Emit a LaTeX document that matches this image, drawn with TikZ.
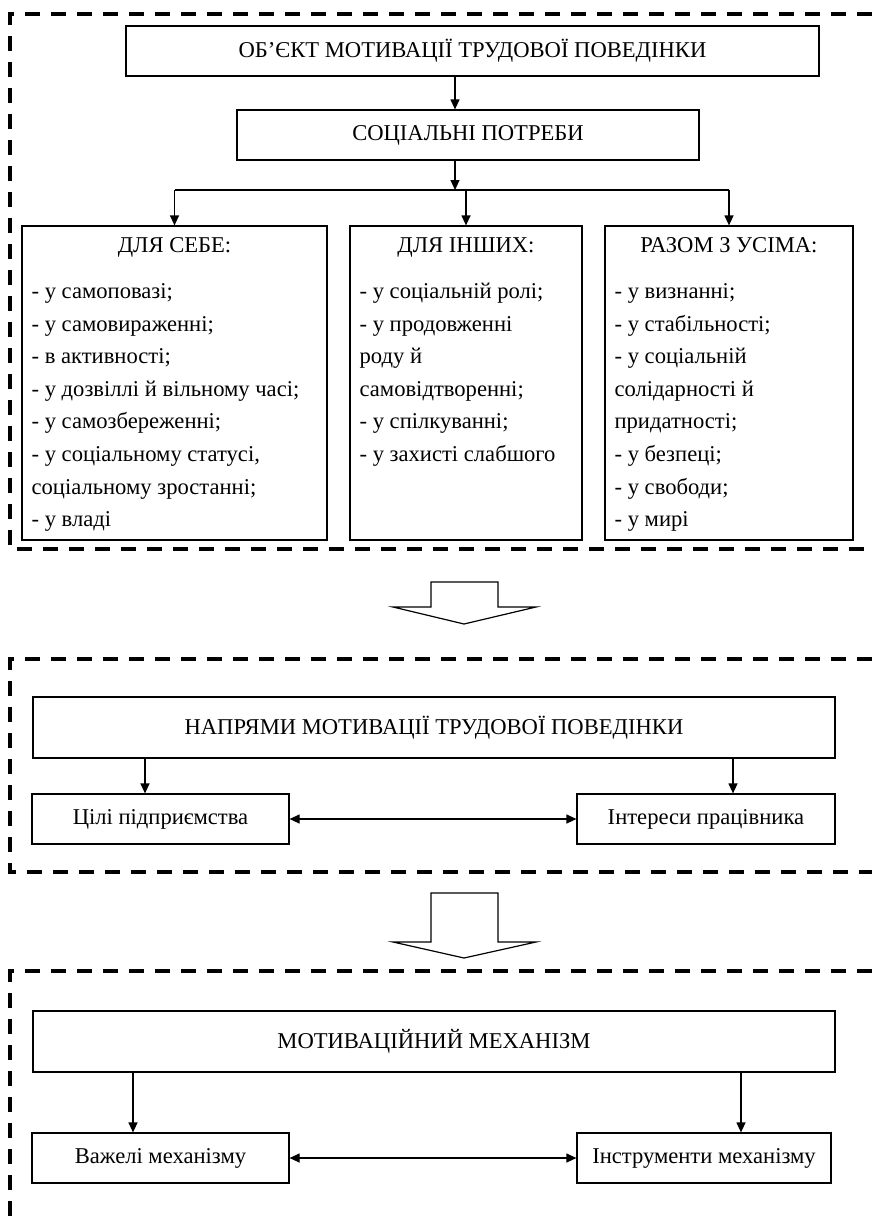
\documentclass[tikz,border=0pt]{standalone}
\usepackage{fontspec}
\setmainfont{Liberation Serif}
\usetikzlibrary{positioning,calc,arrows.meta}

\begin{document}
\begin{tikzpicture}[x=0.5pt,y=-0.5pt,line width=0.6pt,>={Triangle[length=5pt,width=4.5pt]}]
   \tikzstyle{every node} = [inner sep=0pt, font=\fontsize{11.3}{16.3}\selectfont];
   \tikzstyle{box} = [rectangle, draw, line width=0.6pt];
   \tikzstyle{frame} = [line width=2pt, dash pattern=on 7.5pt off 5.5pt];
   \tikzstyle{list} = [align=left, anchor=north west];
   \tikzstyle{hollow} = [line width=0.6pt, fill=white];
   \useasboundingbox (0,0) rectangle (872,1216);

   % dashed frames
   \draw[frame] (872,14) -- (10,14) -- (10,549) -- (872,549);
   \draw[frame] (872,659) -- (10,659) -- (10,872) -- (872,872);
   \draw[frame] (872,971) -- (10,971) -- (10,1216);

   % object and needs
   \node[box, minimum width=346.5pt, minimum height=25pt] (obj) at (472.5,51) {ОБ’ЄКТ МОТИВАЦІЇ ТРУДОВОЇ ПОВЕДІНКИ};
   \node[box, minimum width=231pt, minimum height=25pt]   (soc) at (468,135)  {СОЦІАЛЬНІ ПОТРЕБИ};
   \node[box, minimum width=152.5pt, minimum height=157pt] (c1) at (174.5,383) {};
   \node[box, minimum width=116pt, minimum height=157pt]   (c2) at (466,383)   {};
   \node[box, minimum width=124pt, minimum height=157pt]   (c3) at (729,383)   {};
   \node[anchor=base] (c1h) at (174.5,252) {ДЛЯ СЕБЕ:};
   \node[anchor=base] (c2h) at (466,252)   {ДЛЯ ІНШИХ:};
   \node[anchor=base] (c3h) at (729,252)   {РАЗОМ З УСІМА:};
   \node[list] (c1l) at (31,275)  {\strut- у самоповазі;\\- у самовираженні;\\- в активності;\\- у дозвіллі й вільному часі;\\- у самозбереженні;\\- у соціальному статусі,\\соціальному зростанні;\\- у владі};
   \node[list] (c2l) at (359,275) {\strut- у соціальній ролі;\\- у продовженні\\роду й\\самовідтворенні;\\- у спілкуванні;\\- у захисті слабшого};
   \node[list] (c3l) at (614,275) {\strut- у визнанні;\\- у стабільності;\\- у соціальній\\солідарності й\\придатності;\\- у безпеці;\\- у свободи;\\- у мирі};
   \coordinate (f) at (455,190);
   \draw[->] ($(obj.south)+(-17.5,0)$) -- ($(soc.north)+(-13,0)$);
   \draw[->] (soc.south -| f) -- (f);
   \draw (f -| c1.north) -- (f -| c3.north);
   \path[->] (f -| c1.north) edge (c1);
   \path[->] (f -| c2.north) edge (c2);
   \path[->] (f -| c3.north) edge (c3);

   % first hollow arrow
   \draw[hollow] (431,582) -- (498,582) -- (498,607) -- (536,607) -- (464,624) -- (393,607) -- (431,607) -- cycle;

   % directions
   \node[box, minimum width=401pt, minimum height=30.5pt] (dir) at (434,727.5) {НАПРЯМИ МОТИВАЦІЇ ТРУДОВОЇ ПОВЕДІНКИ};
   \node[box, minimum width=128.5pt, minimum height=25pt] (g) at (160.5,819) {Цілі підприємства};
   \node[box, minimum width=129pt, minimum height=25pt]   (i) at (706,819)   {Інтереси працівника};
   \coordinate (x1) at (145,0);
   \coordinate (x2) at (733,0);
   \draw[->] (dir.south -| x1) -- (g.north -| x1);
   \draw[->] (dir.south -| x2) -- (i.north -| x2);
   \path[<->] (g) edge (i);

   % second hollow arrow
   \draw[hollow] (431,893) -- (498,893) -- (498,942) -- (536,942) -- (464,958) -- (393,942) -- (431,942) -- cycle;

   % mechanism
   \node[box, minimum width=401pt, minimum height=30.5pt] (mech) at (434,1041.5) {МОТИВАЦІЙНИЙ МЕХАНІЗМ};
   \node[box, minimum width=128.5pt, minimum height=25pt] (l) at (160.5,1158) {Важелі механізму};
   \node[box, minimum width=127pt, minimum height=25pt]   (t) at (704,1158)   {Інструменти механізму};
   \coordinate (x3) at (133,0);
   \coordinate (x4) at (741,0);
   \draw[->] (mech.south -| x3) -- (l.north -| x3);
   \draw[->] (mech.south -| x4) -- (t.north -| x4);
   \path[<->] (l) edge (t);
\end{tikzpicture}
\end{document}
